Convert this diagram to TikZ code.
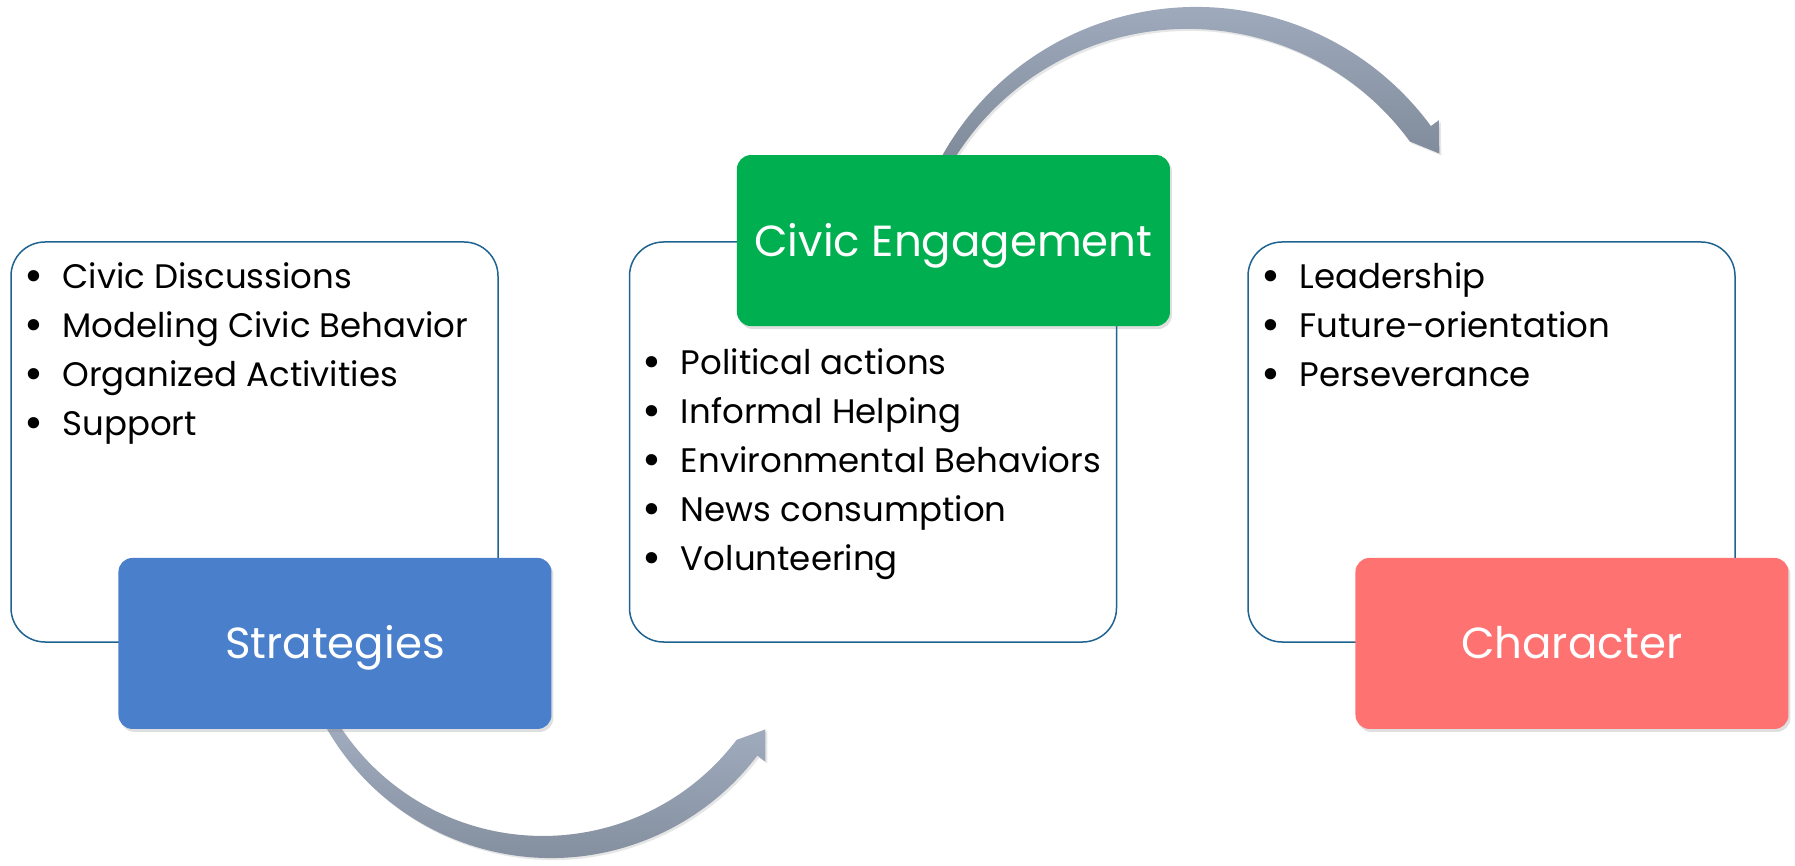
\documentclass[tikz,border=0pt]{standalone}
\usepackage{fontspec}
\setmainfont{Poppins}
\usetikzlibrary{positioning,shadows,calc}
\definecolor{boxline}{HTML}{1F6391}
\definecolor{stratblue}{HTML}{4A7FCC}
\definecolor{civicgreen}{HTML}{00B050}
\definecolor{charred}{HTML}{FF7272}
\definecolor{arrowtop}{HTML}{A7B3C5}
\definecolor{arrowbot}{HTML}{7C8797}
\newcommand{\blt}{\makebox[38pt][l]{\raisebox{-0.1em}{\scalebox{1.35}{\textbullet}}}}

\begin{document}
\begin{tikzpicture}[x=1pt, y=1pt,
    listbox/.style={draw=boxline, line width=1.5pt, rounded corners=34pt, fill=white,
        minimum width=487pt, minimum height=400pt, inner sep=0pt},
    titlebox/.style={rounded corners=14pt, minimum width=433pt, minimum height=171pt,
        inner sep=0pt, text=white, font=\fontsize{43.5}{52}\selectfont,
        text height=31pt, text depth=0pt,
        drop shadow={opacity=0.25, shadow xshift=2pt, shadow yshift=-3pt}},
    items/.style={anchor=north west, inner sep=0pt, align=left,
        font=\fontsize{34}{49}\selectfont},
    bigarrow/.style={top color=arrowtop, bottom color=arrowbot,
        drop shadow={opacity=0.2, shadow xshift=2pt, shadow yshift=-2pt}}]
    \useasboundingbox (0,0) rectangle (1795,865);

    % curved arrows, behind the boxes
    \coordinate (arcL) at (551,266);
    \coordinate (arcR) at (1196,567);
    \shade[bigarrow] ($(arcL)+(205:259pt)$) arc[start angle=205, end angle=322.8, radius=259pt]
        -- ($(arcL)+(322.8:269pt)$) -- ($(arcL)+(328.7:251pt)$) -- ($(arcL)+(322.8:233pt)$)
        arc[start angle=322.8, end angle=205, radius=243pt] -- cycle;
    \shade[bigarrow] ($(arcR)+(152:291pt)$) arc[start angle=152, end angle=36.2, radius=291pt]
        -- ($(arcR)+(36.2:301pt)$) -- ($(arcR)+(30.7:283pt)$) -- ($(arcR)+(36.2:265pt)$)
        arc[start angle=36.2, end angle=152, radius=275pt] -- cycle;

    % list boxes
    \node[listbox] (lbox) at (254.5,423) {};
    \node[listbox, right=130pt of lbox] (mbox) {};
    \node[listbox, right=130pt of mbox] (rbox) {};

    % title boxes
    \node[titlebox, fill=stratblue, anchor=north west] (strat)
        at ([shift={(108pt,85pt)}]lbox.south west) {Strategies};
    \node[titlebox, fill=civicgreen, anchor=south west] (civic)
        at ([shift={(108pt,-85pt)}]mbox.north west) {Civic Engagement};
    \node[titlebox, fill=charred, anchor=north west] (chr)
        at ([shift={(108pt,85pt)}]rbox.south west) {Character};

    % bullet lists
    \node[items] (llist) at ([shift={(14pt,-21pt)}]lbox.north west)
        {\blt Civic Discussions\\ \blt Modeling Civic Behavior\\
         \blt Organized Activities\\ \blt Support};
    \node[items] (mlist) at ([shift={(14pt,-107pt)}]mbox.north west)
        {\blt Political actions\\ \blt Informal Helping\\ \blt Environmental Behaviors\\
         \blt News consumption\\ \blt Volunteering};
    \node[items] (rlist) at ([shift={(14pt,-21pt)}]rbox.north west)
        {\blt Leadership\\ \blt Future-orientation\\ \blt Perseverance};
\end{tikzpicture}
\end{document}
